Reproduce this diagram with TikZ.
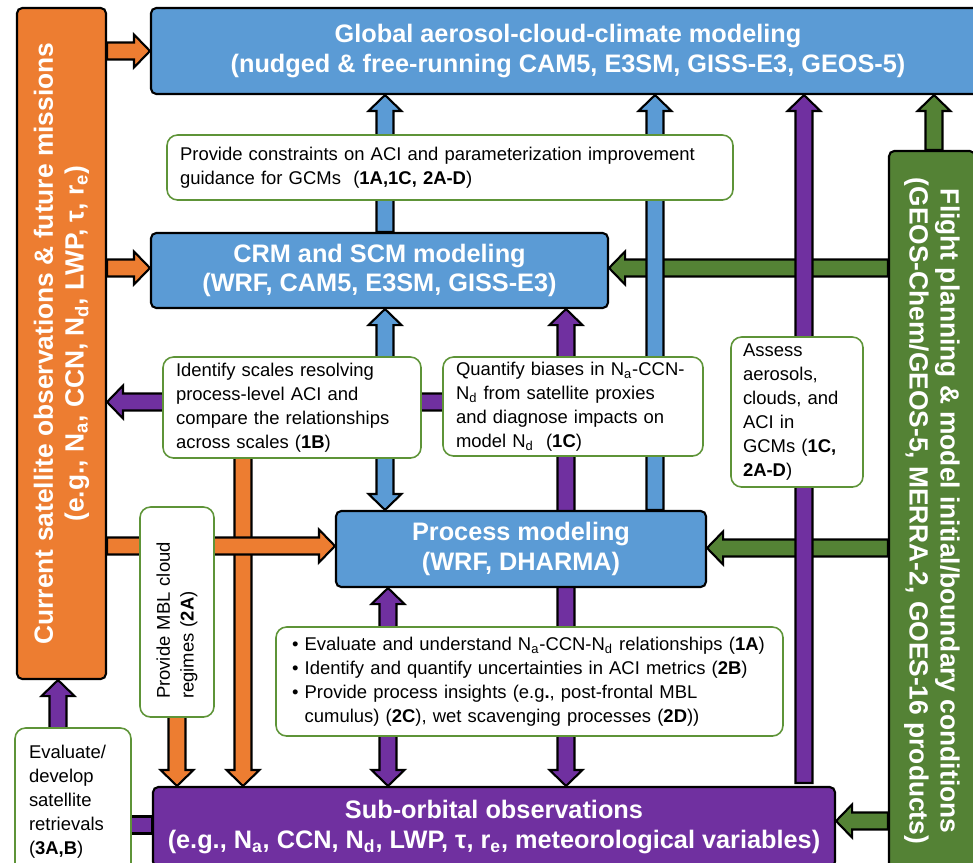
\documentclass[tikz,border=0pt]{standalone}
\usepackage{fontspec}
\setmainfont{Liberation Sans}
\usepackage{tikz}
\usetikzlibrary{calc,fit,backgrounds}
\usepackage{xcolor}

\definecolor{orangeC}{HTML}{ED7D31}
\definecolor{blueC}{HTML}{5B9BD5}
\definecolor{greenC}{HTML}{548235}
\definecolor{purpleC}{HTML}{7030A0}
\definecolor{rimC}{HTML}{5E9438}

% sizes of the fat arrows
\newcommand{\shaftw}{0.17cm}
\newcommand{\headw}{0.33cm}
\newcommand{\headl}{0.32cm}

% fat arrow, head at the end
\newcommand{\blockarrow}[3]{%
\coordinate (hb) at ($(#3)!\headl!(#2)$);
\draw[fatline,fill=#1] ($(#2)!\shaftw!90:(#3)$) -- ($(hb)!\shaftw!-90:(#2)$) -- ($(hb)!\headw!-90:(#2)$) -- (#3) -- ($(hb)!\headw!90:(#2)$) -- ($(hb)!\shaftw!90:(#2)$) -- ($(#2)!\shaftw!-90:(#3)$) -- cycle;}

% fat arrow, heads at both ends
\newcommand{\blockdouble}[3]{%
\coordinate (ha) at ($(#2)!\headl!(#3)$);
\coordinate (hb) at ($(#3)!\headl!(#2)$);
\draw[fatline,fill=#1] (#2) -- ($(ha)!\headw!90:(#3)$) -- ($(ha)!\shaftw!90:(#3)$) -- ($(hb)!\shaftw!-90:(#2)$) -- ($(hb)!\headw!-90:(#2)$) -- (#3) -- ($(hb)!\headw!90:(#2)$) -- ($(hb)!\shaftw!90:(#2)$) -- ($(ha)!\shaftw!-90:(#3)$) -- ($(ha)!\headw!-90:(#3)$) -- cycle;}

% fat bar, no head
\newcommand{\blockbar}[3]{%
\draw[fatline,fill=#1] ($(#2)!\shaftw!90:(#3)$) -- ($(#3)!\shaftw!-90:(#2)$) -- ($(#3)!\shaftw!90:(#2)$) -- ($(#2)!\shaftw!-90:(#3)$) -- cycle;}

\begin{document}
\begin{tikzpicture}[x=0.02cm,y=-0.02cm,
  fatline/.style={draw=black,line width=1.2pt},
  bigbox/.style={draw=black,line width=1.2pt,rounded corners=3pt,inner sep=0pt},
  bigtext/.style={text=white,align=center,font=\fontsize{14.4}{17}\selectfont\bfseries},
  sidetext/.style={text=white,align=center,font=\fontsize{15}{17.6}\selectfont\bfseries},
  notebox/.style={draw=rimC,fill=white,line width=0.9pt,rounded corners=6pt,inner sep=0pt},
  notetext/.style={align=left,font=\fontsize{10.5}{13.6}\selectfont}]

\useasboundingbox (0,0) rectangle (973,862);
\clip (0,0) rectangle (973,862);

% main blocks
\node[bigbox,fill=blueC,fit={(151,8) (985,94)}] (glob) {};
\node[bigtext] (glob-t) at (glob.center) {Global aerosol-cloud-climate modeling\\(nudged \& free-running CAM5, E3SM, GISS-E3, GEOS-5)};
\node[bigbox,fill=blueC,fit={(151,233) (608,308)}] (crm) {};
\node[bigtext] (crm-t) at (crm.center) {CRM and SCM modeling\\(WRF, CAM5, E3SM, GISS-E3)};
\node[bigbox,fill=blueC,fit={(336,511) (706,587)}] (proc) {};
\node[bigtext] (proc-t) at (proc.center) {Process modeling\\(WRF, DHARMA)};
\node[bigbox,fill=purpleC,fit={(153,787) (835,867)}] (sub) {};
\node[bigtext] (sub-t) at (sub.center) {Sub-orbital observations\\(e.g., N\textsubscript{a}, CCN, N\textsubscript{d}, LWP, τ, r\textsubscript{e}, meteorological variables)};

\node[bigbox,fill=orangeC,fit={(17,8) (106,679)}] (sat) {};
\node[sidetext,rotate=90] (sat-t) at (sat.center) {Current satellite observations \& future missions\\(e.g., N\textsubscript{a}, CCN, N\textsubscript{d}, LWP, τ, r\textsubscript{e})};
\node[bigbox,fill=greenC,fit={(889,151) (975,871)}] (bc) {};
\node[sidetext,rotate=-90] (bc-t) at (bc.center) {Flight planning \& model initial/boundary conditions\\(GEOS-Chem/GEOS-5, MERRA-2, GOES-16 products)};

% notes
\node[notebox,fit={(167,135) (733,200)}] (cons) {};
\node[notetext,text width=10.8cm] at (cons.center) {Provide constraints on ACI and parameterization improvement\\guidance for GCMs\ \ (\textbf{1A,1C, 2A-D})};
\node[notebox,fit={(163,357) (421,458)}] (ident) {};
\node[notetext,text width=4.64cm] at (ident.center) {Identify scales resolving\\process-level ACI and\\compare the relationships\\across scales (\textbf{1B})};
\node[notebox,fit={(443,357) (703,456)}] (quant) {};
\node[notetext,text width=4.68cm] at (quant.center) {Quantify biases in N\textsubscript{a}-CCN-\\N\textsubscript{d} from satellite proxies\\and diagnose impacts on\\model N\textsubscript{d}\ \ (\textbf{1C})};
\node[notebox,fit={(731,337) (863,487)}] (assess) {};
\node[notetext,text width=2.16cm] at (assess.center) {Assess\\aerosols,\\clouds, and\\ACI in\\GCMs (\textbf{1C,}\\\textbf{2A-D})};
\node[notebox,fit={(140,507) (214,717)}] (mbl) {};
\node[notetext,text width=3.48cm,rotate=90] at (mbl.center) {Provide MBL cloud\\regimes (\textbf{2A})};
\node[notebox,fit={(276,627) (783,736)}] (eval) {};
\node[notetext,text width=9.5cm] at (eval.center) {\textbullet\ Evaluate and understand N\textsubscript{a}-CCN-N\textsubscript{d} relationships (\textbf{1A})\\
\textbullet\ Identify and quantify uncertainties in ACI metrics (\textbf{2B})\\
\textbullet\ Provide process insights (e.g\textbf{.}, post-frontal MBL\\
\phantom{\textbullet\ }cumulus) (\textbf{2C}), wet scavenging processes (\textbf{2D}))};
\node[notebox,fit={(15,728) (131,875)}] (evsat) {};
\node[notetext,text width=1.76cm] at (evsat.center) {Evaluate/\\develop\\satellite\\retrievals\\(\textbf{3A,B})};

\coordinate (sat-drop) at (243,420);
\coordinate (bias-src) at (566,402);
\coordinate (gcm-foot) at (804,783);

\begin{pgfonlayer}{background}
% green inputs
\blockarrow{greenC}{bc.west|-0,268}{crm.east|-0,268}
\blockarrow{greenC}{bc.west|-0,548}{proc.east|-0,548}
\blockarrow{greenC}{bc.west|-0,821}{sub.east|-0,821}
\blockarrow{greenC}{bc.north-|934,0}{glob.south-|934,0}

% orange inputs
\blockarrow{orangeC}{sat-drop}{sat-drop|-sub.north}
\blockarrow{orangeC}{mbl.center}{mbl.center|-sub.north}
\blockarrow{orangeC}{sat.east|-0,51}{glob.west|-0,51}
\blockarrow{orangeC}{sat.east|-0,268}{crm.west|-0,268}
\blockarrow{orangeC}{sat.east|-0,546}{proc.west|-0,546}

% model chain
\blockarrow{blueC}{crm.north-|385,0}{glob.south-|385,0}
\blockdouble{blueC}{crm.south-|385,0}{proc.north-|385,0}
\blockarrow{blueC}{proc.north-|655,0}{glob.south-|655,0}

% sub-orbital links
\blockarrow{purpleC}{bias-src}{sat.east|-bias-src}
\blockdouble{purpleC}{crm.south-|566,0}{sub.north-|566,0}
\blockdouble{purpleC}{proc.south-|388,0}{sub.north-|388,0}
\blockarrow{purpleC}{gcm-foot}{glob.south-|gcm-foot}
\blockbar{purpleC}{sub.west|-0,825}{evsat.center|-0,825}
\blockarrow{purpleC}{evsat.center-|58,0}{sat.south-|58,0}
\end{pgfonlayer}
\end{tikzpicture}
\end{document}
